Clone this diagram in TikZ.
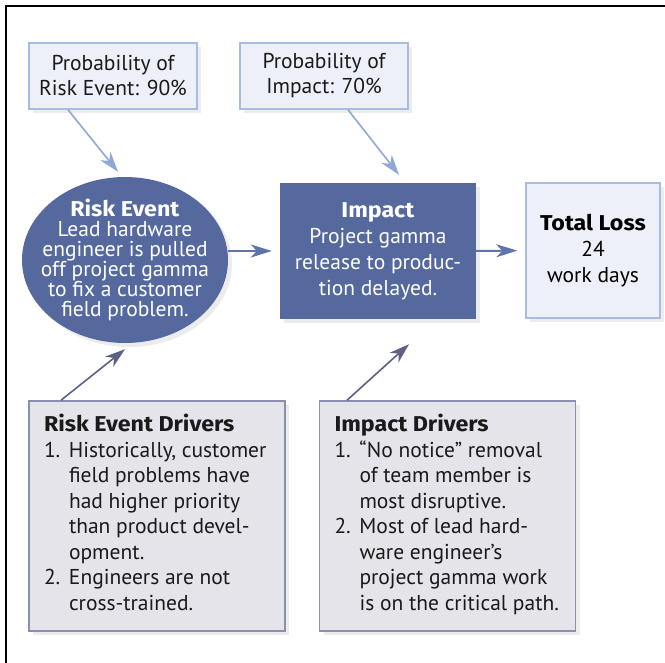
\documentclass[tikz,border=0pt]{standalone}
\usepackage{fontspec}
\setmainfont{PT Sans}[BoldFont={Fira Sans Bold},BoldFeatures={FakeStretch=1.08}]
\usetikzlibrary{arrows.meta,shapes.geometric,shadows}
\definecolor{pfill}{HTML}{EDF0F8}
\definecolor{pborder}{HTML}{A8BCE2}
\definecolor{dblue}{HTML}{55699E}
\definecolor{gfill}{HTML}{E4E4EA}
\definecolor{gborder}{HTML}{8A8FB0}
\definecolor{arrlight}{HTML}{8FA8D8}
\definecolor{arrmid}{HTML}{5F74A8}
\definecolor{arrdark}{HTML}{5D6185}
\definecolor{txt}{HTML}{1A1A1A}
\tikzset{
  shade/.style={drop shadow={opacity=0.15,shadow xshift=4pt,shadow yshift=-4pt}},
  probbox/.style={draw=pborder,line width=1.5pt,fill=pfill,shade,minimum width=168pt,minimum height=66pt,inner sep=0pt,align=center,text=txt,font=\fontsize{21.5}{25}\selectfont},
  eventell/.style={ellipse,fill=dblue,shade,minimum width=206pt,minimum height=166pt,inner sep=0pt},
  eventtext/.style={align=center,inner sep=0pt,text=white,font=\fontsize{21.5}{20}\selectfont},
  impbox/.style={fill=dblue,shade,minimum width=196pt,minimum height=136pt,inner sep=0pt,align=center,text=white,font=\fontsize{21.5}{26}\selectfont},
  lossbox/.style={draw=pborder,line width=1.5pt,fill=pfill,shade,minimum width=134pt,minimum height=135pt,inner sep=0pt,align=center,text=black,font=\fontsize{21.5}{26}\selectfont},
  drvbox/.style={draw=gborder,line width=1.5pt,fill=gfill,shade,minimum width=256pt,minimum height=230pt,inner sep=0pt,text=txt,font=\fontsize{21.5}{25.5}\selectfont},
  lightarr/.style={draw=arrlight,line width=1.6pt,-{Stealth[length=20pt,width=13pt,inset=6pt]}},
  midarr/.style={draw=arrmid,line width=2pt,-{Stealth[length=21pt,width=13pt,inset=6pt]}},
  darkarr/.style={draw=arrdark,line width=1.6pt,-{Stealth[length=20pt,width=13pt,inset=6pt]}}
}
\newcommand{\drvtext}[1]{\makebox[226pt][l]{\begin{tabular}{@{}p{25pt}@{}l@{}}#1\end{tabular}}}
\begin{document}
\begin{tikzpicture}[x=1pt,y=-1pt]
\useasboundingbox[fill=white] (0,0) rectangle (665,663);
\draw[line width=1.5pt,black] (6,6) rectangle (700,700);

\node[probbox] (p1) at (113,76) {Probability of\\Risk Event: 90\%};
\node[probbox] (p2) at (324,76) {Probability of\\Impact: 70\%};

\node[eventell] (ev) at (125,260) {};
\node[eventtext] (evt) at (ev.center) {\textbf{Risk Event}\\Lead hardware\\engineer is pulled\\off project gamma\\to fix a customer\\field problem.};
\node[impbox] (im) at (378,251) {\textbf{Impact}\\Project gamma\\release to produc-\\tion delayed.};
\node[lossbox] (tl) at (593,250.5) {\textbf{Total Loss}\\24\\work days};

\node[drvbox] (d1) at (157,516) {\drvtext{\multicolumn{2}{@{}l@{}}{\textbf{Risk Event Drivers}}\\
1. & Historically, customer\\
 & field problems have\\
 & had higher priority\\
 & than product devel-\\
 & opment.\\
2. & Engineers are not\\
 & cross-trained.}};
\node[drvbox] (d2) at (447.5,516) {\drvtext{\multicolumn{2}{@{}l@{}}{\textbf{Impact Drivers}}\\
1. & “No notice” removal\\
 & of team member is\\
 & most disruptive.\\
2. & Most of lead hard-\\
 & ware engineer’s\\
 & project gamma work\\
 & is on the critical path.}};

\draw[lightarr] ([xshift=-45pt]p1.south) -- ([xshift=-7pt,yshift=5pt]ev.north);
\draw[lightarr] ([xshift=24pt]p2.south) -- ([xshift=21pt,yshift=8pt]im.north);
\draw[midarr,shorten >=8pt] (ev.east |- im.west) -- (im.west);
\draw[midarr,shorten >=8pt] (im.east) -- (tl.west);
\draw[darkarr] ([xshift=-96pt]d1.north) -- ([yshift=-6pt]ev.south);
\draw[darkarr] ([xshift=-100.5pt]d2.north) -- ([xshift=31pt,yshift=-25pt]im.south);
\end{tikzpicture}
\end{document}
